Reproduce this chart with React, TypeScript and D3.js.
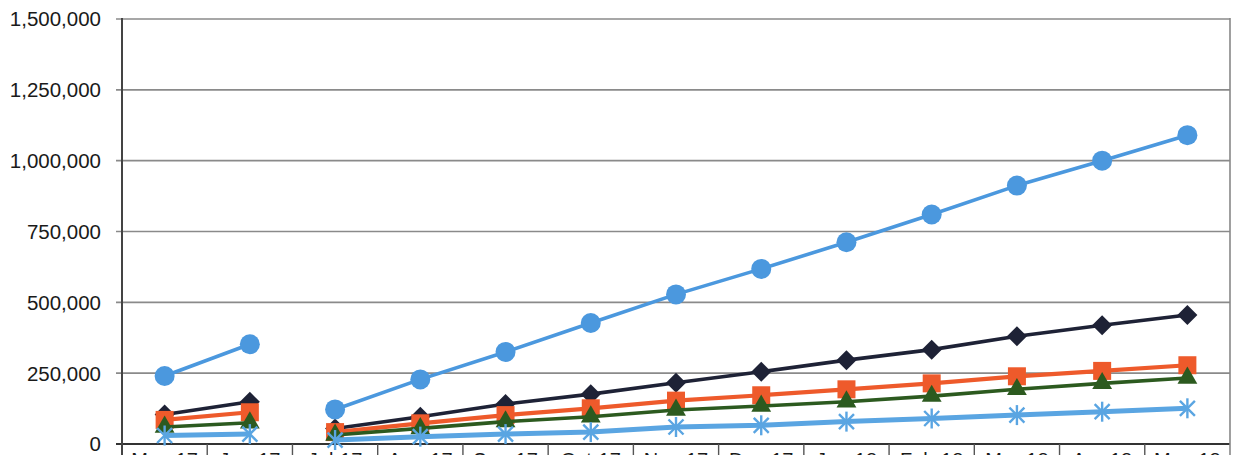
import React from "react";
import * as d3 from "d3";

const categories = ["May-17","Jun-17","Jul-17","Aug-17","Sep-17","Oct-17","Nov-17","Dec-17","Jan-18","Feb-18","Mar-18","Apr-18","May-18"];
const segments = [[0, 1], [2, 12]];
const yTicks = [0, 250000, 500000, 750000, 1000000, 1250000, 1500000];

const circleSeries = [240000,352000,122000,228000,325000,427000,528000,618000,712000,810000,912000,1000000,1090000];
const diamondSeries = [104000,149000,55000,96000,141000,176000,216000,255000,296000,333000,380000,419000,455000];
const squareSeries = [85000,112000,42000,73000,102000,126000,153000,172000,193000,214000,239000,258000,278000];
const triangleSeries = [60000,75000,32000,55000,79000,96000,120000,134000,149000,169000,193000,214000,233000];
const starSeries = [30000,35000,14000,26000,35000,42000,60000,66000,79000,90000,102000,114000,126000];

const W = 1234, H = 455;
const left = 122, right = 1230, top = 19, bottom = 444;

const series = [
  { name: "diamond", values: diamondSeries, color: "#1e2236", width: 3.6, marker: "diamond" },
  { name: "square", values: squareSeries, color: "#ee5a2b", width: 4.2, marker: "square" },
  { name: "triangle", values: triangleSeries, color: "#2c5a1f", width: 3.6, marker: "triangle" },
  { name: "star", values: starSeries, color: "#5aa5e2", width: 5, marker: "star" },
  { name: "circle", values: circleSeries, color: "#4b98de", width: 3.6, marker: "circle" },
];

export default function App() {
  const x = d3.scaleBand<string>().domain(categories).range([left, right]);
  const y = d3.scaleLinear().domain([0, 1500000]).range([bottom, top]);
  const cx = (i: number) => (x(categories[i]) as number) + x.bandwidth() / 2;
  const fmt = d3.format(",");

  const drawMarker = (m: string, px: number, py: number, color: string, key: string) => {
    if (m === "circle") return <circle key={key} cx={px} cy={py} r={10} fill={color} />;
    if (m === "diamond") {
      const s = 10;
      return <path key={key} d={`M${px},${py - s}L${px + s},${py}L${px},${py + s}L${px - s},${py}Z`} fill={color} />;
    }
    if (m === "square") return <rect key={key} x={px - 9} y={py - 9} width={18} height={18} fill={color} />;
    if (m === "triangle") {
      const sym = d3.symbol().type(d3.symbolTriangle).size(170)();
      return <path key={key} d={sym as string} transform={`translate(${px},${py})`} fill={color} />;
    }
    const s = 10;
    const d = 7.5;
    return (
      <g key={key} stroke={color} strokeWidth={2.4}>
        <line x1={px} y1={py - s} x2={px} y2={py + s} />
        <line x1={px - d} y1={py - d} x2={px + d} y2={py + d} />
        <line x1={px - d} y1={py + d} x2={px + d} y2={py - d} />
      </g>
    );
  };

  return (
    <svg width={W} height={H} style={{ position: "absolute", left: 0, top: 0, background: "#fff" }}
      fontFamily="Liberation Sans, Arial, sans-serif">
      <rect x={0} y={0} width={W} height={H} fill="#fff" />
      {yTicks.map((t) => (
        <g key={t}>
          <line x1={left - 6} x2={right} y1={y(t)} y2={y(t)} stroke={t === 0 ? "#333" : "#8a8a8a"} strokeWidth={t === 0 ? 2 : 1.6} />
          <text x={101} y={y(t)} dy="0.36em" textAnchor="end" fontSize={20.5} fill="#1a1a1a">{fmt(t)}</text>
        </g>
      ))}
      <line x1={left} x2={left} y1={top - 1} y2={H} stroke="#444" strokeWidth={2} />
      <line x1={right} x2={right} y1={top - 1} y2={H} stroke="#888" strokeWidth={1.6} />
      {categories.map((c, i) => (
        <g key={c}>
          {i > 0 && <line x1={x(c)} x2={x(c)} y1={bottom} y2={H} stroke="#555" strokeWidth={1.4} />}
          <text x={cx(i)} y={bottom + 23} textAnchor="middle" fontSize={20} fill="#1a1a1a">{c}</text>
        </g>
      ))}
      {series.map((s) => (
        <g key={s.name}>
          {segments.map(([a, b], k) => {
            const idx = d3.range(a, b + 1);
            const line = d3.line<number>().x((i) => cx(i)).y((i) => y(s.values[i]));
            return <path key={k} d={line(idx) as string} fill="none" stroke={s.color} strokeWidth={s.width} strokeLinejoin="round" />;
          })}
          {s.values.map((v, i) => drawMarker(s.marker, cx(i), y(v), s.color, `${s.name}-${i}`))}
        </g>
      ))}
    </svg>
  );
}
